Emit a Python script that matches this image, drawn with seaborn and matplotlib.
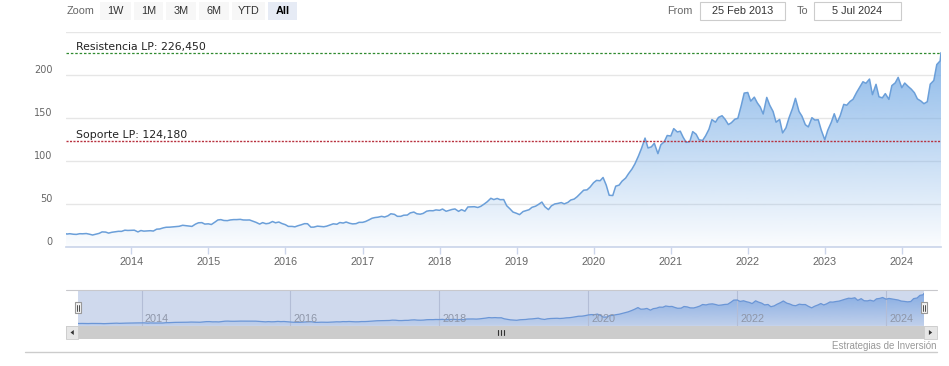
import matplotlib
matplotlib.use("Agg")
import matplotlib.pyplot as plt
import matplotlib.dates as mdates
from matplotlib import font_manager
from matplotlib.colors import LinearSegmentedColormap, to_rgb
from matplotlib.patches import Rectangle, Polygon
import numpy as np
import pandas as pd
import seaborn as sns

# semi-monthly closes (1st and 15th of each month)
p2013 = [15.4, 15.8, 15.2, 15.0, 15.8, 15.7, 16.0, 15.3, 14.3, 15.2,
         16.2, 17.9, 17.7, 16.5, 17.5, 18.0, 18.6, 18.5, 19.9, 19.6]  # from March
p2014 = [19.7, 19.9, 17.9, 19.5, 18.8, 19.0, 19.3, 18.9, 21.1, 21.3, 22.6, 23.3,
         23.4, 23.7, 24.0, 24.4, 25.6, 25.2, 24.7, 24.3, 27.0, 28.5, 28.7, 27.0]
p2015 = [27.3, 26.5, 29.3, 31.8, 32.2, 31.2, 31.0, 31.8, 32.2, 32.2, 32.5, 31.8,
         31.7, 31.8, 30.3, 29.0, 27.0, 28.7, 27.4, 27.9, 30.0, 28.5, 29.4, 27.7]
p2016 = [26.3, 24.3, 24.3, 23.8, 25.1, 26.1, 27.5, 27.4, 23.4, 23.5, 24.6, 24.3,
         23.9, 24.6, 26.1, 27.3, 26.8, 28.8, 28.2, 29.4, 27.9, 27.2, 27.5, 29.0]
p2017 = [29.0, 30.0, 32.0, 33.8, 34.6, 35.0, 36.0, 35.2, 36.6, 39.0, 38.3, 36.0,
         36.0, 37.3, 37.5, 40.0, 41.0, 39.0, 38.5, 39.4, 42.0, 42.6, 42.5, 43.5]
p2018 = [43.0, 44.5, 41.9, 43.0, 44.0, 44.6, 41.8, 43.8, 42.0, 46.9, 47.0, 47.2,
         46.3, 47.6, 50.4, 53.0, 57.0, 55.5, 56.8, 55.4, 55.5, 48.4, 44.6, 41.0]
p2019 = [39.5, 38.0, 41.6, 42.6, 43.7, 46.5, 47.8, 49.9, 52.6, 47.2, 43.8, 48.2,
         50.4, 51.0, 52.0, 50.5, 52.2, 55.0, 56.1, 58.8, 63.0, 66.4, 66.8, 69.9]
p2020 = [75.1, 77.8, 77.4, 81.2, 72.3, 60.5, 60.2, 71.1, 72.3, 76.9, 80.5, 85.7,
         91.0, 97.0, 106.3, 114.9, 127.0, 115.5, 116.8, 121.0, 108.9, 119.3, 122.7, 130.0]
p2021 = [129.4, 138.0, 134.1, 135.0, 127.8, 122.0, 123.0, 134.5, 131.5, 125.0, 124.3, 129.6,
         137.3, 148.5, 145.5, 151.0, 153.0, 149.0, 142.7, 144.8, 149.0, 150.0, 164.8, 179.3]
p2022 = [180.0, 170.0, 174.6, 168.0, 163.2, 155.0, 174.3, 165.3, 157.9, 145.5, 148.7, 133.0,
         138.9, 150.2, 161.5, 173.2, 157.9, 152.4, 142.5, 140.0, 150.7, 148.0, 148.3, 136.5]
p2023 = [125.0, 136.0, 145.4, 155.3, 145.3, 152.9, 166.2, 165.2, 169.6, 172.1, 180.1, 186.0,
         192.5, 190.7, 195.6, 177.5, 189.5, 175.0, 173.8, 178.7, 172.0, 188.0, 191.2, 197.6]
p2024 = [185.6, 191.0, 186.9, 183.9, 179.7, 172.6, 170.0, 167.0, 169.3, 189.7, 194.0, 212.5,
         216.8]  # through 1 Jul
start_date, start_price = "2013-02-25", 15.8
end_date, end_price = "2024-07-05", 226.3

resistance = 226.45
support = 124.18

year_ticks = list(range(2014, 2025))
nav_years = [2014, 2016, 2018, 2020, 2022, 2024]
zoom_buttons = ["1W", "1M", "3M", "6M", "YTD", "All"]
range_from = "25 Feb 2013"
range_to = "5 Jul 2024"
credits = "Estrategias de Inversión"

prices = [start_price] + p2013 + p2014 + p2015 + p2016 + p2017 + p2018 + p2019 \
    + p2020 + p2021 + p2022 + p2023 + p2024 + [end_price]
dates = pd.DatetimeIndex([pd.Timestamp(start_date)]
                         + list(pd.date_range("2013-03-01", "2024-07-01", freq="SMS"))
                         + [pd.Timestamp(end_date)])
assert len(dates) == len(prices)
df = pd.DataFrame({"date": dates, "price": prices})

W, H = 949, 366

sns.set_theme(style="white")
installed = {f.name for f in font_manager.fontManager.ttflist}
NARROW = "Liberation Sans Narrow" if "Liberation Sans Narrow" in installed else "Liberation Sans"
NSIZE = 9 if NARROW == "Liberation Sans Narrow" else 7.8
plt.rcParams["font.family"] = ["DejaVu Sans"]


def frac(x0, y0, x1, y1):
    return [x0 / W, (H - y1) / H, (x1 - x0) / W, (y1 - y0) / H]


def gradient_area(ax, x, y, color, top_alpha, bottom_alpha, zorder=1):
    poly = ax.fill_between(x, y, 0, facecolor="none", edgecolor="none")
    rgb = to_rgb(color)
    cmap = LinearSegmentedColormap.from_list("grad", [(*rgb, bottom_alpha), (*rgb, top_alpha)])
    xn = mdates.date2num(x)
    im = ax.imshow(np.linspace(0, 1, 256).reshape(-1, 1), cmap=cmap, aspect="auto",
                   origin="lower", extent=[xn.min(), xn.max(), 0, max(y)], zorder=zorder)
    im.set_clip_path(poly.get_paths()[0], transform=ax.transData)


fig = plt.figure(figsize=(W / 100, H / 100), dpi=100)
fig.patch.set_facecolor("white")

# main chart
ax = fig.add_axes(frac(66, 32.3, 941, 247.3))
gradient_area(ax, df["date"], df["price"], "#78ade6", 0.85, 0.03)
sns.lineplot(data=df, x="date", y="price", ax=ax, color="#6b9fd9", linewidth=1.1, zorder=3)
ax.set_xlim(dates[0], dates[-1])
ax.set_ylim(0, 250)
ax.set_yticks(range(0, 251, 50))
ax.set_yticklabels([str(v) if v < 250 else "" for v in range(0, 251, 50)])
ax.grid(axis="y", color="#e6e6e6", linewidth=1)
ax.grid(axis="x", visible=False)
ax.set_xticks([pd.Timestamp(f"{y}-01-01") for y in year_ticks])
ax.xaxis.set_major_formatter(mdates.DateFormatter("%Y"))
ax.set_xlabel("")
ax.set_ylabel("")
for side in ["top", "right", "left"]:
    ax.spines[side].set_visible(False)
ax.spines["bottom"].set_color("#ccd6eb")
ax.tick_params(axis="x", direction="out", length=5, width=1, color="#ccd6eb", pad=2,
               labelsize=NSIZE, labelcolor="#666666", bottom=True)
ax.tick_params(axis="y", length=0, pad=9.5, labelsize=7, labelcolor="#666666")
for lab in ax.get_xticklabels():
    lab.set_fontfamily(NARROW)
for lab in ax.get_yticklabels():
    lab.set_verticalalignment("bottom")

ax.axhline(resistance, color="#2f8a2f", linestyle=(0, (2, 1.5)), linewidth=0.9, zorder=4)
ax.axhline(support, color="#b8323f", linestyle=(0, (1.5, 1)), linewidth=1.0, zorder=4)
ax.annotate("Resistencia LP: " + f"{resistance:.3f}".replace(".", ","),
            xy=(0, resistance), xycoords=("axes fraction", "data"),
            xytext=(7.2, 1.8), textcoords="offset points", va="baseline",
            fontsize=7.8, color="#222222")
ax.annotate("Soporte LP: " + f"{support:.3f}".replace(".", ","),
            xy=(0, support), xycoords=("axes fraction", "data"),
            xytext=(7.2, 1.8), textcoords="offset points", va="baseline",
            fontsize=7.8, color="#222222")

# navigator
nav = fig.add_axes(frac(78.3, 290, 924, 325.7))
nav.set_facecolor("#cfd9ed")
gradient_area(nav, df["date"], df["price"], "#6f9ee0", 0.75, 0.15, zorder=2)
sns.lineplot(data=df, x="date", y="price", ax=nav, color="#6b96d6", linewidth=0.9, zorder=3)
nav.set_xlim(dates[0], dates[-1])
nav.set_ylim(0, 250)
nav.set_xticks([pd.Timestamp(f"{y}-01-01") for y in nav_years])
nav.set_yticks([])
nav.set_axisbelow(False)
nav.grid(axis="x", color="#b3bdd6", linewidth=0.8)
nav.tick_params(axis="x", length=0, labelbottom=False)
nav.set_xlabel("")
nav.set_ylabel("")
for s in nav.spines.values():
    s.set_visible(False)
for y in nav_years:
    nav.annotate(str(y), xy=(pd.Timestamp(f"{y}-01-01"), 0.2), xycoords=("data", "axes fraction"),
                 xytext=(2.2, 0), textcoords="offset points", va="center", ha="left",
                 fontsize=NSIZE, color="#8e96a8", family=NARROW, zorder=5)

# page furniture in pixel coordinates
ov = fig.add_axes([0, 0, 1, 1], zorder=10)
ov.set_xlim(0, W)
ov.set_ylim(H, 0)
ov.axis("off")

ov.plot([66, 937], [290, 290], color="#c8c8cc", linewidth=0.8)
# scrollbar
ov.add_patch(Rectangle((66, 325.7), 871, 13.6, fc="#cccccc", ec="none"))
ov.add_patch(Rectangle((66, 325.7), 12.3, 13.6, fc="#e6e6e6", ec="#cccccc", lw=0.6))
ov.add_patch(Rectangle((924.3, 325.7), 12.4, 13.6, fc="#e6e6e6", ec="#cccccc", lw=0.6))
ov.add_patch(Polygon([(70.5, 332.5), (73.8, 330), (73.8, 335)], fc="#333333", ec="none"))
ov.add_patch(Polygon([(932.2, 332.5), (928.9, 330), (928.9, 335)], fc="#333333", ec="none"))
for gx in (498.5, 501.5, 504.5):
    ov.plot([gx, gx], [329.5, 335], color="#333333", linewidth=0.8)
# navigator handles
for hx in (75.0, 920.8):
    ov.add_patch(Rectangle((hx, 301.7), 6.5, 11.6, fc="#f2f2f2", ec="#999999", lw=0.8))
    ov.plot([hx + 2.4, hx + 2.4], [304.5, 310.5], color="#333333", linewidth=0.6)
    ov.plot([hx + 4.1, hx + 4.1], [304.5, 310.5], color="#333333", linewidth=0.6)

ov.text(937, 345.7, credits, ha="right", va="center", fontsize=7, color="#999999", family=NARROW)
ov.plot([25, 937], [351.7, 351.7], color="#cccccc", linewidth=1)

# range selector
ov.text(67, 11, "Zoom", ha="left", va="center", fontsize=NSIZE, color="#666666", family=NARROW)
btn_x = [(100, 131), (134, 163), (166, 196), (199, 229), (232, 265), (268, 297)]
for (x0, x1), label in zip(btn_x, zoom_buttons):
    selected = label == "All"
    ov.add_patch(Rectangle((x0, 2), x1 - x0, 18, fc="#e6ebf5" if selected else "#f7f7f7", ec="none"))
    ov.text((x0 + x1) / 2, 11, label, ha="center", va="center", fontsize=NSIZE,
            color="#000000" if selected else "#333333",
            fontweight="bold" if selected else "normal", family=NARROW)
ov.text(667, 11, "From", ha="left", va="center", fontsize=NSIZE, color="#666666", family=NARROW)
ov.add_patch(Rectangle((700, 1.7), 85, 18.3, fc="white", ec="#cccccc", lw=0.8))
ov.text(742.5, 11, range_from, ha="center", va="center", fontsize=NSIZE, color="#333333", family=NARROW)
ov.text(797, 11, "To", ha="left", va="center", fontsize=NSIZE, color="#666666", family=NARROW)
ov.add_patch(Rectangle((814, 1.7), 87, 18.3, fc="white", ec="#cccccc", lw=0.8))
ov.text(857.5, 11, range_to, ha="center", va="center", fontsize=NSIZE, color="#333333", family=NARROW)

fig.savefig("out.png", dpi=100)
